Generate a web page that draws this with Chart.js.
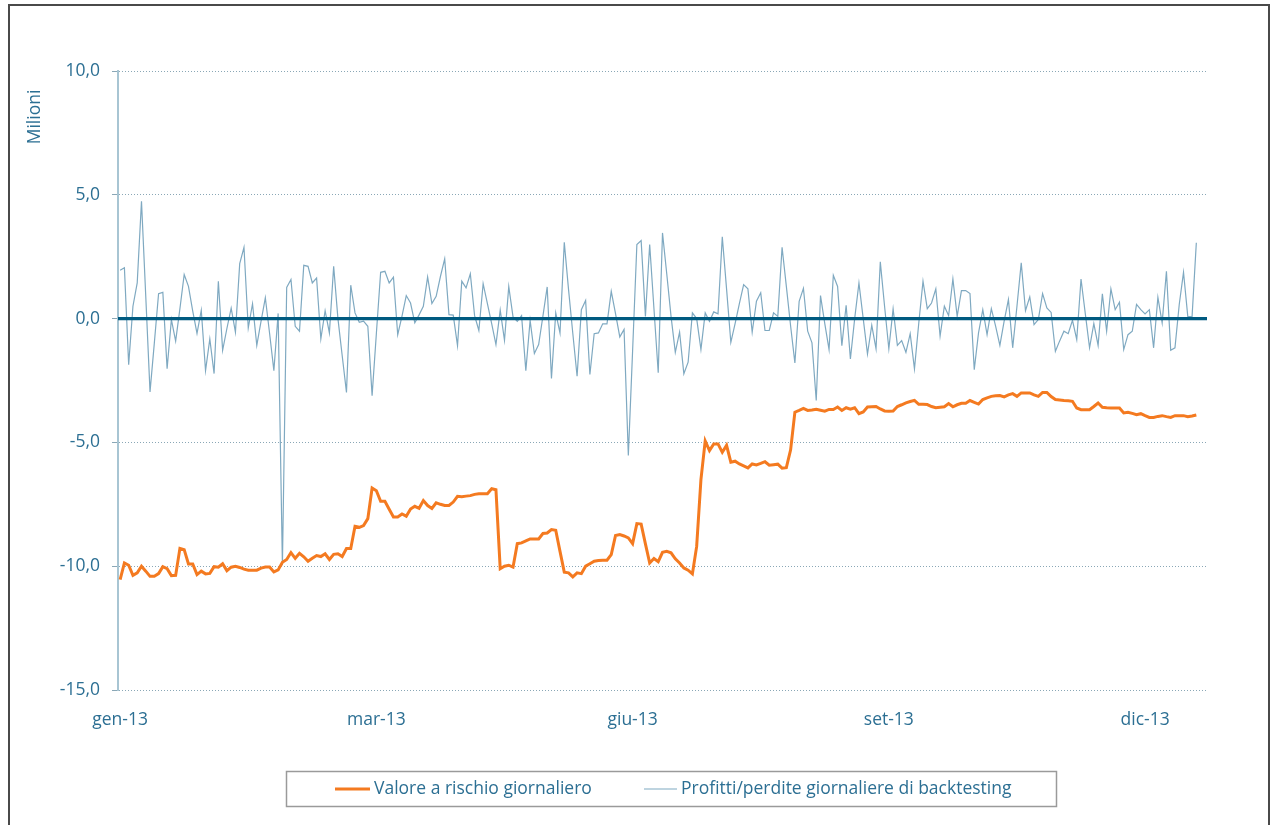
<!DOCTYPE html>
<html lang="it">
<head>
<meta charset="utf-8">
<title>Valore a rischio giornaliero e backtesting</title>
<script src="https://cdn.jsdelivr.net/npm/chart.js@4.4.1/dist/chart.umd.min.js"></script>
<style>
  html, body { margin: 0; padding: 0; background: #fff; }
  #wrap { position: relative; width: 1271px; height: 825px; overflow: hidden; }
  #frame {
    position: absolute; left: 8px; top: 4px; width: 1262px; height: 900px;
    border: 2px solid #4a4a4a; box-sizing: border-box;
  }
  #varChart { position: absolute; left: 0; top: 0; }
</style>
</head>
<body>
<div id="wrap">
  <div id="frame"></div>
  <canvas id="varChart" width="1271" height="825"></canvas>
</div>
<script>
// Tick labels on the x axis (one every 60 trading days)
const monthLabels = ["gen-13", "mar-13", "giu-13", "set-13", "dic-13"];
const monthTickIdx = [0, 60, 120, 180, 240];

// Valore a rischio giornaliero (milioni), one value per trading day
const varDaily = [
  -10.54, -9.87, -9.96, -10.37, -10.27, -10.0, -10.2, -10.41, -10.41, -10.3,
  -10.02, -10.1, -10.38, -10.37, -9.28, -9.33, -9.91, -9.91, -10.34, -10.2,
  -10.31, -10.29, -10.02, -10.04, -9.9, -10.18, -10.04, -10.0, -10.05, -10.12,
  -10.16, -10.16, -10.16, -10.08, -10.03, -10.03, -10.23, -10.15, -9.84, -9.73,
  -9.45, -9.68, -9.48, -9.62, -9.8, -9.68, -9.57, -9.61, -9.5, -9.73,
  -9.52, -9.5, -9.61, -9.29, -9.29, -8.39, -8.43, -8.36, -8.08, -6.84,
  -6.95, -7.38, -7.38, -7.7, -8.01, -8.01, -7.89, -7.98, -7.69, -7.58,
  -7.66, -7.35, -7.55, -7.67, -7.44, -7.5, -7.55, -7.55, -7.41, -7.18,
  -7.19, -7.17, -7.15, -7.1, -7.07, -7.07, -7.07, -6.87, -6.91, -10.1,
  -10.0, -9.96, -10.04, -9.09, -9.06, -8.98, -8.9, -8.9, -8.9, -8.68,
  -8.66, -8.52, -8.55, -9.4, -10.24, -10.27, -10.43, -10.27, -10.3, -10.0,
  -9.9, -9.8, -9.77, -9.76, -9.76, -9.53, -8.76, -8.72, -8.78, -8.86,
  -9.09, -8.28, -8.3, -9.1, -9.87, -9.69, -9.82, -9.44, -9.4, -9.46,
  -9.7, -9.87, -10.07, -10.16, -10.31, -9.2, -6.5, -4.94, -5.33, -5.06,
  -5.06, -5.4, -5.12, -5.8, -5.76, -5.87, -5.95, -6.03, -5.87, -5.91,
  -5.85, -5.78, -5.92, -5.9, -5.88, -6.04, -6.02, -5.3, -3.78, -3.71,
  -3.63, -3.71, -3.69, -3.66, -3.7, -3.74, -3.67, -3.67, -3.57, -3.71,
  -3.6, -3.66, -3.6, -3.84, -3.77, -3.57, -3.56, -3.55, -3.65, -3.73,
  -3.74, -3.73, -3.55, -3.48, -3.4, -3.35, -3.3, -3.46, -3.46, -3.47,
  -3.55, -3.6, -3.58, -3.56, -3.43, -3.56, -3.48, -3.42, -3.42, -3.31,
  -3.38, -3.45, -3.27, -3.2, -3.14, -3.12, -3.11, -3.16, -3.08, -3.03,
  -3.14, -3.0, -3.0, -3.0, -3.08, -3.14, -2.98, -2.98, -3.15, -3.27,
  -3.29, -3.31, -3.32, -3.34, -3.61, -3.68, -3.68, -3.68, -3.55, -3.41,
  -3.58, -3.6, -3.61, -3.61, -3.61, -3.81, -3.78, -3.83, -3.88, -3.84,
  -3.92, -3.99, -3.99, -3.95, -3.92, -3.96, -3.99, -3.92, -3.92, -3.92,
  -3.96, -3.93, -3.89
];

// Profitti/perdite giornaliere di backtesting (milioni)
const plDaily = [
  1.95, 2.05, -1.86, 0.5, 1.44, 4.74, 0.9, -2.96, -1.0, 1.01,
  1.06, -2.02, -0.04, -0.91, 0.4, 1.78, 1.3, 0.3, -0.6, 0.34,
  -2.1, -0.82, -2.22, 1.51, -1.28, -0.4, 0.42, -0.55, 2.22, 2.88,
  -0.38, 0.6, -1.08, -0.1, 0.84, -0.6, -2.1, 0.21, -9.96, 1.26,
  1.58, -0.31, -0.51, 2.15, 2.11, 1.44, 1.64, -0.82, 0.32, -0.58,
  2.11, 0.0, -1.5, -2.98, 1.35, 0.23, -0.15, -0.1, -0.31, -3.11,
  -0.6, 1.87, 1.91, 1.44, 1.67, -0.65, 0.1, 0.93, 0.63, -0.17,
  0.15, 0.5, 1.68, 0.61, 0.9, 1.7, 2.41, 0.16, 0.14, -1.09,
  1.51, 1.24, 1.81, 0.12, -0.48, 1.41, 0.6, -0.2, -1.05, 0.34,
  -0.88, 1.3, 0.07, -0.11, 0.12, -2.1, -0.07, -1.41, -1.05, 0.1,
  1.28, -2.42, 0.23, -0.58, 3.08, 1.17, -0.6, -2.33, 0.36, 0.73,
  -2.26, -0.61, -0.58, -0.21, -0.21, 1.1, 0.2, -0.74, -0.44, -5.53,
  -1.3, 2.99, 3.15, 0.09, 2.99, 0.4, -2.19, 3.46, 1.8, 0.09,
  -1.36, -0.55, -2.23, -1.76, 0.23, 0.0, -1.25, 0.23, -0.11, 0.27,
  0.19, 3.3, 1.2, -0.96, -0.2, 0.6, 1.37, 1.2, -0.55, 0.7,
  1.04, -0.48, -0.48, 0.23, 0.09, 2.88, 1.3, -0.3, -1.79, 0.7,
  1.22, -0.51, -0.98, -3.31, 0.93, -0.2, -1.25, 1.75, 1.3, -1.09,
  0.54, -1.63, 0.0, 1.44, 0.0, -1.43, -0.27, -1.22, 2.29, 0.5,
  -1.22, 0.39, -1.08, -0.89, -1.36, -0.61, -2.03, -0.2, 1.51, 0.4,
  0.63, 1.2, -0.71, 0.5, 0.12, 1.6, 0.09, 1.13, 1.13, 1.01,
  -2.06, -0.58, 0.36, -0.65, 0.4, -0.3, -1.08, -0.1, 0.77, -1.18,
  0.5, 2.25, 0.32, 0.88, -0.24, -0.04, 1.01, 0.43, 0.25, -1.32,
  -0.9, -0.51, -0.61, -0.07, -0.85, 1.6, 0.2, -1.18, -0.2, -1.08,
  1.0, -0.51, 1.2, 0.36, 0.66, -1.25, -0.65, -0.51, 0.57, 0.36,
  0.19, 0.36, -1.18, 0.86, -0.17, 1.91, -1.28, -1.18, 0.57, 1.87,
  0.09, 0.07, 3.06
];

const textColor = "#2c6f93";
const orange = "#f47a20";
const lightBlue = "#7fa9c1";
const zeroLineColor = "#005a80";
const gridColor = "#8aa7b6";
const fontFamily = "'Open Sans', 'DejaVu Sans', sans-serif";

Chart.defaults.font.family = fontFamily;
Chart.defaults.font.size = 17.5;
Chart.defaults.color = textColor;

// Zero line, y title and boxed legend
const chartDecor = {
  id: "chartDecor",
  afterDatasetsDraw(chart) {
    const { ctx, chartArea, scales } = chart;
    const y0 = scales.y.getPixelForValue(0);
    ctx.save();
    ctx.strokeStyle = zeroLineColor;
    ctx.lineWidth = 3.2;
    ctx.beginPath();
    ctx.moveTo(chartArea.left, y0);
    ctx.lineTo(chartArea.right, y0);
    ctx.stroke();
    ctx.restore();
  },
  afterDraw(chart) {
    const ctx = chart.ctx;
    ctx.save();
    ctx.fillStyle = textColor;
    ctx.font = "17.5px " + fontFamily;

    // axis title
    ctx.save();
    ctx.translate(35, 117);
    ctx.rotate(-Math.PI / 2);
    ctx.textAlign = "center";
    ctx.textBaseline = "middle";
    ctx.fillText("Milioni", 0, 0);
    ctx.restore();

    // legend box
    ctx.strokeStyle = "#9a9a9a";
    ctx.lineWidth = 1.5;
    ctx.strokeRect(286.5, 771.5, 770, 35);

    const items = [
      { ds: chart.data.datasets[0], x1: 335, x2: 370 },
      { ds: chart.data.datasets[1], x1: 644, x2: 677 },
    ];
    const ly = 789;
    ctx.textAlign = "left";
    ctx.textBaseline = "middle";
    items.forEach(function (it) {
      ctx.strokeStyle = it.ds.borderColor;
      ctx.lineWidth = it.ds.borderWidth;
      ctx.beginPath();
      ctx.moveTo(it.x1, ly);
      ctx.lineTo(it.x2, ly);
      ctx.stroke();
      ctx.fillText(it.ds.label, it.x2 + 4, ly);
    });
    ctx.restore();
  },
};

const ctx = document.getElementById("varChart").getContext("2d");
const varChart = new Chart(ctx, {
  type: "line",
  data: {
    datasets: [
      {
        label: "Valore a rischio giornaliero",
        data: varDaily.map((v, i) => ({ x: i, y: v })),
        borderColor: orange,
        borderWidth: 3,
        pointRadius: 0,
        tension: 0,
        order: 1,
      },
      {
        label: "Profitti/perdite giornaliere di backtesting",
        data: plDaily.map((v, i) => ({ x: i, y: v })),
        borderColor: lightBlue,
        borderWidth: 1.2,
        pointRadius: 0,
        tension: 0,
        order: 2,
      },
    ],
  },
  options: {
    responsive: false,
    animation: false,
    layout: {
      padding: { left: 0, right: 64, top: 71, bottom: 90 },
    },
    plugins: {
      legend: { display: false },
      tooltip: { enabled: false },
    },
    scales: {
      x: {
        type: "linear",
        min: -0.5,
        max: 254.5,
        afterBuildTicks: function (scale) {
          scale.ticks = monthTickIdx.map((v) => ({ value: v }));
        },
        afterFit: function (scale) {
          scale.height = 45;
        },
        ticks: {
          autoSkip: false,
          maxRotation: 0,
          padding: 12,
          callback: function (value) {
            const k = monthTickIdx.indexOf(value);
            return k >= 0 ? monthLabels[k] : "";
          },
        },
        grid: { display: false },
        border: { display: false },
      },
      y: {
        min: -15,
        max: 10,
        afterFit: function (scale) {
          scale.width = 118;
        },
        ticks: {
          stepSize: 5,
          padding: 12,
          callback: function (value) {
            return value.toFixed(1).replace(".", ",");
          },
        },
        grid: {
          color: function (c) {
            return c.tick && c.tick.value === 0 ? "rgba(0,0,0,0)" : gridColor;
          },
          lineWidth: 1,
          drawTicks: true,
          tickLength: 6,
          tickColor: gridColor,
          tickBorderDash: [],
        },
        border: {
          display: true,
          color: "#a8c5d3",
          width: 2,
          dash: [1, 2],
        },
      },
    },
  },
  plugins: [chartDecor],
});
</script>
</body>
</html>
